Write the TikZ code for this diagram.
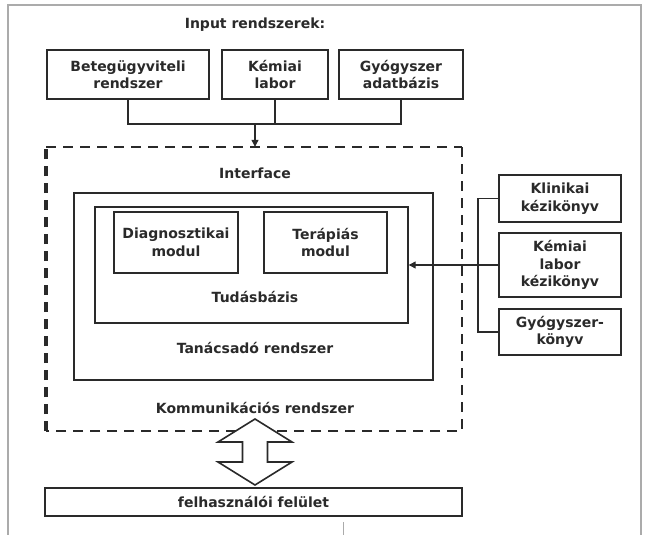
\documentclass[tikz,border=0pt]{standalone}
\usepackage{fontspec}
\setmainfont{DejaVu Sans}
\usetikzlibrary{arrows.meta}
\definecolor{ink}{HTML}{2A2A2A}
\definecolor{frame}{HTML}{ABABAB}
\tikzset{
  txt/.style={font=\fontsize{14}{17.5}\selectfont\bfseries, text=ink, align=center, inner sep=0pt},
  box/.style={draw=ink, line width=1.4pt, fill=white, inner sep=0pt, txt},
  conn/.style={draw=ink, line width=1.2pt},
  arr/.style={conn, -{Triangle[length=7pt,width=7pt]}},
  dashbox/.style={draw=ink, line width=2.4pt, dash pattern=on 10pt off 7pt},
}
\begin{document}
\begin{tikzpicture}[x=1pt,y=-1pt]
\useasboundingbox (0,0) rectangle (645,535);
\fill[white] (0,0) rectangle (645,535);
% page frame
\draw[frame, line width=2pt] (8,535) -- (8,5) -- (641,5) -- (641,535);
\draw[frame, line width=1pt] (343,522) -- (343,535);

% title
\node[txt] (title) at (255,25) {Input rendszerek:};

% input boxes
\node[box, minimum width=162pt, minimum height=49pt] (b1) at (128,74.5) {Betegügyviteli\\rendszer};
\node[box, minimum width=106pt, minimum height=49pt] (b2) at (275,74.5) {Kémiai\\labor};
\node[box, minimum width=124pt, minimum height=49pt] (b3) at (401,74.5) {Gyógyszer\\adatbázis};

% dashed communication system box
\coordinate (dNW) at (46,147);
\coordinate (dSE) at (462,431);
\node[inner sep=0pt, minimum width=416pt, minimum height=284pt] (komm) at (254,289) {};
\draw[dashbox] (462,147) -- (462,431) -- (46,431);
\draw[dashbox, line width=3.6pt] (46,431) -- (46,147);
\draw[dashbox] (46,147) -- (462,147);

% joining connector
\coordinate (j1) at (128,124);
\coordinate (j3) at (401,124);
\draw[conn] (b1.south) -- (j1) -- (j3) -- (b3.south);
\draw[conn] (b2.south) -- (b2.south |- j1);
\coordinate (jm) at (255,124);
\draw[arr] (jm) -- (komm.north -| jm);

\node[txt] (iface) at (255,173) {Interface};

% advisory system
\node[draw=ink, line width=2.4pt, inner sep=0pt, minimum width=359pt, minimum height=187pt] (tan) at (253.5,286.5) {};
\node[draw=ink, line width=1.4pt, inner sep=0pt, minimum width=313pt, minimum height=116pt] (tud) at (251.5,265) {};
\node[box, minimum width=124pt, minimum height=61pt] (diag) at (176,242.5) {Diagnosztikai\\modul};
\node[box, minimum width=123pt, minimum height=61pt] (ter) at (325.5,242.5) {Terápiás\\modul};
\node[txt] (tudt) at (255,297) {Tudásbázis};
\node[txt] (tant) at (255,348) {Tanácsadó rendszer};
\node[txt] (kommt) at (255,408) {Kommunikációs rendszer};

% handbooks
\node[box, minimum width=122pt, minimum height=47pt] (h1) at (560,198.5) {Klinikai\\kézikönyv};
\node[box, minimum width=122pt, minimum height=64pt] (h2) at (560,265) {Kémiai\\labor\\kézikönyv};
\node[box, minimum width=122pt, minimum height=46pt] (h3) at (560,332) {Gyógyszer-\\könyv};
\coordinate (bt) at (478,198.5);
\coordinate (bb) at (478,332);
\draw[conn] (h1.west) -- (bt) -- (bb) -- (h3.west);
\draw[arr] (h2.west) -- (tud.east |- h2.west);

% user interface
\node[box, minimum width=417pt, minimum height=28pt] (ui) at (253.5,502) {felhasználói felület};

% double arrow
\draw[draw=ink, line width=1.6pt, fill=white, line join=miter]
  (255,419) -- (292,442) -- (267.5,442) -- (267.5,462) -- (292,462) -- (255,485)
  -- (218,462) -- (242.5,462) -- (242.5,442) -- (218,442) -- cycle;
\end{tikzpicture}
\end{document}
